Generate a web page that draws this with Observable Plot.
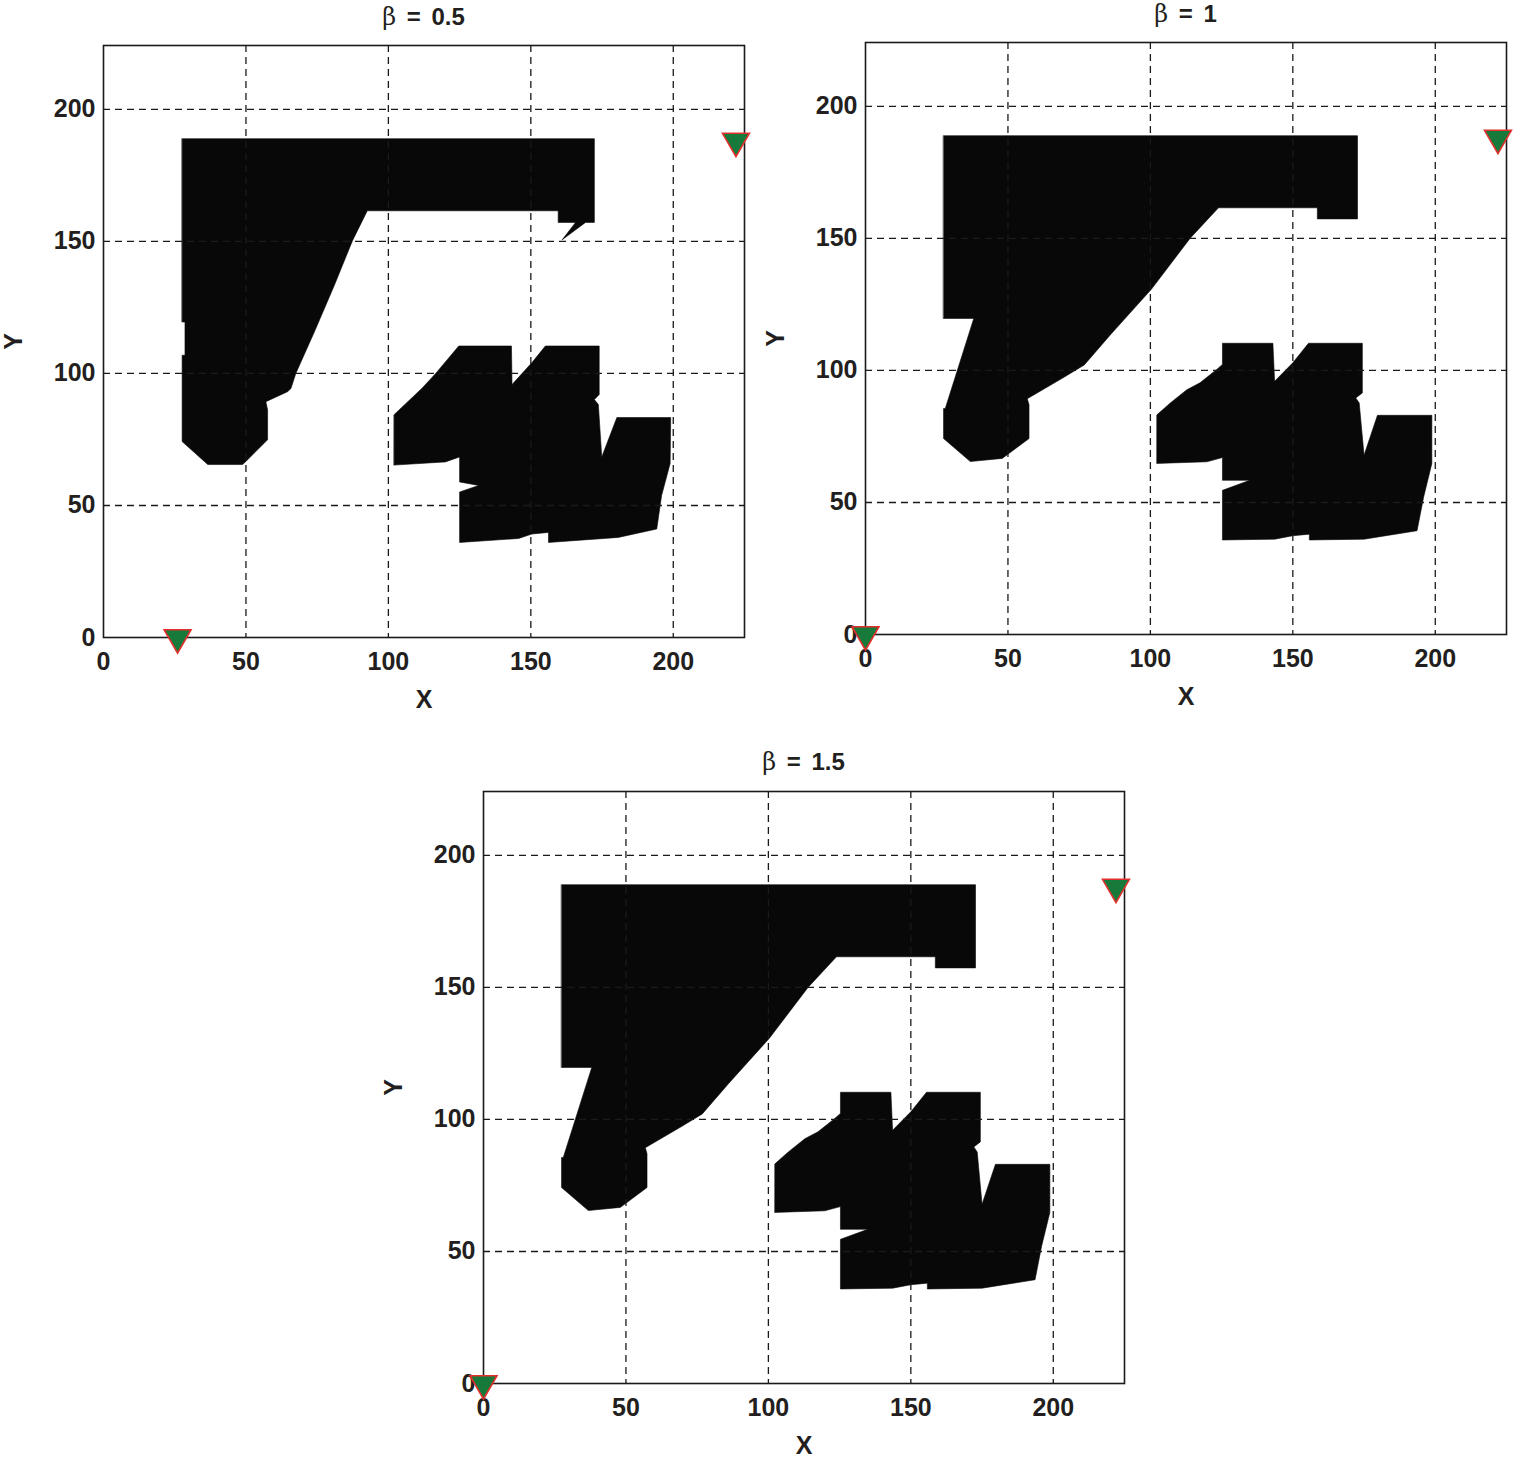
<!DOCTYPE html>
<html><head><meta charset="utf-8">
<script src="https://cdn.jsdelivr.net/npm/d3@7"></script>
<script src="https://cdn.jsdelivr.net/npm/@observablehq/plot@0.6"></script>
<style>
html,body{margin:0;padding:0;background:#fff;overflow:hidden;}
#root{position:relative;width:1516px;height:1459px;}
.panel{position:absolute;}
.title{position:absolute;transform:translateX(-50%);white-space:nowrap;font-family:"Liberation Sans",Arial,sans-serif;font-weight:bold;font-size:24px;color:#231f20;line-height:1;word-spacing:4px;}
.title .b{font-family:"DejaVu Serif","Liberation Serif",serif;font-weight:normal;}
</style></head>
<body><div id="root"></div>
<script>
// ---- data ----
const xTicks = [0, 50, 100, 150, 200];
const yTicks = [0, 50, 100, 150, 200];
const gridValues = [50, 100, 150, 200];
const betaLabels = ["0.5", "1", "1.5"];
const startPoints = [[26, 0], [0, 0], [0, 0]];
const goalPoint = [222, 188];

// obstacles for beta = 0.5
const upperObstacleA = [
  [27.6,188.9],[172.3,188.9],[172.3,157.2],[169.2,157.2],[161,150.6],[165.7,157.2],[159.6,157.2],[159.6,161.6],
  [92.6,161.6],[87.4,150.3],[81,133.3],[74,115.7],[67.5,100],[65.8,94.3],[64.6,93.1],[57,89.3],[57.6,86.2],
  [57.6,74.9],[50,66.7],[48.8,65.5],[36.6,65.5],[27.6,74.2],[27.6,106.9],[28.6,106.9],[28.6,119.5],[27.6,119.5]
];
const lowerObstacleA = [
  [102,84.4],[111.9,94.5],[116.6,100],[124.7,110.4],[143.2,110.4],[143.4,95.8],[150.4,104.1],[155.1,110.4],
  [174,110.4],[174,92],[172.3,90.1],[173.7,88.2],[174.9,68.4],[180.2,83.3],[199.1,83.3],[198.9,65.9],
  [195.9,53.8],[194.2,41.1],[180.7,37.9],[156.2,36],[156.2,39.8],[150.4,39.2],[145.7,37.5],[125,36],
  [125,55.1],[131.7,57.6],[125,58.9],[125,68.4],[120,66.5],[102,65.3]
];
// obstacles for beta = 1 and beta = 1.5
const upperObstacleB = [
  [27.4,188.9],[172.7,188.9],[172.7,157.4],[158.6,157.4],[158.6,161.6],[123.9,161.6],[113.9,150],
  [100.4,130.8],[86.2,113.8],[76.8,102.1],[69.8,97.5],[56.8,89.3],[57.4,87],[57.4,74.2],[48,66.7],
  [36.8,65.5],[27.4,74.2],[27.4,85.6],[28,85.6],[38,119.7],[27.4,119.7]
];
const lowerObstacleB = [
  [102.3,83.2],[107,87.7],[112.8,92.7],[117.4,95.3],[123.3,100.4],[125.3,102.3],[125.3,110.3],[143,110.3],
  [143.6,95.9],[150,102.9],[155.5,110.3],[174.4,110.3],[174.4,91.5],[172.1,89.6],[173.3,87.7],[175,67.9],
  [179.7,83],[198.8,83],[198.8,64.8],[195.9,52],[193.6,39.3],[175,36.1],[155.8,35.8],[155.8,38],[150,37.4],
  [143.6,36.1],[125.3,35.8],[125.3,54.6],[134.9,58.4],[125.3,58.4],[125.3,67],[119.8,65.4],[102.3,64.8]
];
const obstacleSets = [
  [upperObstacleA, lowerObstacleA],
  [upperObstacleB, lowerObstacleB],
  [upperObstacleB, lowerObstacleB]
];

// ---- layout ----
const frames = [[103, 45], [865, 42], [483, 791]]; // plot-area top-left in page px
const titleTops = [5, 2, 750];
const ML = 103, MT = 40, MR = 10, MB = 75, FW = 641, FH = 592;

const downTriangle = {
  draw(ctx, size) {
    const y = Math.sqrt(size / (3 * Math.sqrt(3)));
    const x = Math.sqrt(3) * y;
    ctx.moveTo(0, 2 * y);
    ctx.lineTo(-x, -y);
    ctx.lineTo(x, -y);
    ctx.closePath();
  }
};

function makePanel(i) {
  const [upper, lower] = obstacleSets[i];
  const poly = (d) => Plot.line(d, {x: p => p[0], y: p => p[1], fill: "#080808", stroke: "#080808", strokeWidth: 0.6, curve: "linear-closed"});
  const dash = {stroke: "#1a1a1a", strokeWidth: 1.3, strokeDasharray: "7,5"};
  return Plot.plot({
    width: ML + FW + MR, height: MT + FH + MB,
    marginLeft: ML, marginRight: MR, marginTop: MT, marginBottom: MB,
    x: {domain: [0, 225]},
    y: {domain: [0, 224.2]},
    style: {fontFamily: "'Liberation Sans', Arial, sans-serif", fontSize: "25px", fontWeight: "bold", color: "#231f20", background: "transparent", overflow: "visible"},
    marks: [
      poly(upper),
      poly(lower),
      Plot.ruleX(gridValues, dash),
      Plot.ruleY(gridValues, dash),
      Plot.frame({stroke: "#1a1a1a", strokeWidth: 1.6}),
      Plot.axisX(xTicks, {tickSize: 0, tickPadding: 15, label: null, fill: "#231f20"}),
      Plot.axisY(yTicks, {tickSize: 0, tickPadding: 8, label: null, fill: "#231f20"}),
      Plot.text(["X"], {frameAnchor: "bottom", dy: 62, lineAnchor: "middle", textAnchor: "middle", fontSize: 25, fill: "#231f20"}),
      Plot.text(["Y"], {frameAnchor: "left", dx: -90, rotate: -90, lineAnchor: "middle", textAnchor: "middle", fontSize: 25, fill: "#231f20"}),
      Plot.dot([startPoints[i], goalPoint], {x: p => p[0], y: p => p[1], symbol: downTriangle, r: 10, fill: "#187a3a", stroke: "#e3302c", strokeWidth: 1.6})
    ]
  });
}

const root = document.getElementById("root");
for (let i = 0; i < 3; i++) {
  const wrap = document.createElement("div");
  wrap.className = "panel";
  wrap.style.left = (frames[i][0] - ML) + "px";
  wrap.style.top = (frames[i][1] - MT) + "px";
  wrap.appendChild(makePanel(i));
  root.appendChild(wrap);
  const t = document.createElement("div");
  t.className = "title";
  t.style.left = (frames[i][0] + FW / 2) + "px";
  t.style.top = titleTops[i] + "px";
  t.innerHTML = '<span class="b">β</span> = ' + betaLabels[i];
  root.appendChild(t);
}
</script>
</body></html>
